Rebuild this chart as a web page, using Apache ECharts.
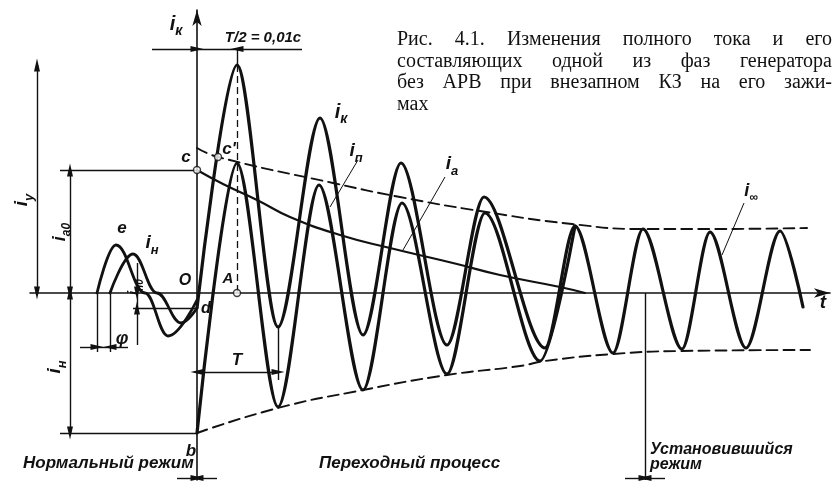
<!DOCTYPE html>
<html><head><meta charset="utf-8">
<script src="https://cdn.jsdelivr.net/npm/echarts@6.0.0/dist/echarts.min.js"></script>
<style>html,body{margin:0;padding:0;background:#fff}#c{width:833px;height:482px}</style>
</head><body><div id="c"></div>
<script>
// time t in ms (T/2 = 10 ms), current in relative units
const ikCurve = [[0,-1.5],[10,22.8],[20.25,-3.4],[30.75,17.5],[41.5,-4.2],[51,13.0],[62.5,-5.2],[71.75,9.6],[87,-5.5],[94.5,6.7],[104,-6.0],[111.5,6.4],[121.25,-5.6],[128.25,6.1],[137.25,-5.5],[145.75,6.2],[151.5,-1.4]];
const ipCurve = [[0,-14.0],[10,13.0],[20.25,-11.4],[30.5,10.8],[41.5,-9.7],[51.25,9.0],[62.5,-8.1],[72,8.0],[85.75,-6.8],[94.5,6.7]];
const iaCurve = [[0,12.3],[6.5,10.9],[15,9.3],[23.25,7.6],[35.75,5.8],[48.25,4.5],[65,2.9],[75.75,1.8],[90.75,0.6],[97,0]];
const envUpper = [[0,14.5],[5.25,13.6],[34,11.0],[50.75,9.6],[70.75,8.2],[93.75,6.9],[111.5,6.4],[128.25,6.4],[152.5,6.5]];
const envLower = [[0,-14.0],[20.25,-11.5],[41.5,-9.7],[62.5,-8.2],[80.75,-7.3],[87,-6.8],[104,-6.1],[120.75,-5.8],[153.25,-5.7]];
const eCurve = [[-25,0],[-20.25,4.8],[-13,0],[-7.25,-4.3],[0,-0.7]];
const inCurve = [[-21.75,0],[-16,3.9],[-10,0],[-4,-3.0],[0,-1.5]];
const halfPeriod = 10;      // T/2 = 0,01 c
const period = 20.25;       // T
const steadyStart = 112;    // start of steady state
const captionLines = [
  ['Рис.', '4.1.', 'Изменения', 'полного', 'тока', 'и', 'его'],
  ['составляющих', 'одной', 'из', 'фаз', 'генератора'],
  ['без', 'АРВ', 'при', 'внезапном', 'КЗ', 'на', 'его', 'зажи-'],
  ['мах']
];
const regimeLabels = ['Нормальный режим', 'Переходный процесс', 'Установившийся', 'режим'];

const K = '#111';
const iy = ikCurve[1][1], ia0 = iaCurve[0][1], inn = ipCurve[0][1], in0 = ikCurve[0][1];

const AR = 'triangle';
function seg(a, b, s1, s2, style) {
  const p1 = {coord: a, symbol: s1 || 'none', symbolSize: [6, 13]};
  const p2 = {coord: b, symbol: s2 || 'none', symbolSize: [6, 13]};
  if (style) p1.lineStyle = style;
  return [p1, p2];
}
const dimLines = [
  seg([-42.25, iy], [halfPeriod, iy]),
  seg([-40, 0], [-40, iy], AR, AR),
  seg([-34.25, ia0], [0, ia0]),
  seg([-31.75, 0], [-31.75, ia0], AR, AR),
  seg([-34.25, inn], [0, inn]),
  seg([-31.75, 0], [-31.75, inn], AR, AR),
  seg([-16, in0], [0, in0]),
  seg([-15, 3.0], [-15, 0], 'none', AR),
  seg([-15, -5.2], [-15, in0], 'none', AR),
  seg([-15, 0], [-15, in0]),
  seg([eCurve[0][0], 0], [eCurve[0][0], -5.9]),
  seg([inCurve[0][0], 0], [inCurve[0][0], -5.9]),
  seg([-29.25, -5.4], [eCurve[0][0], -5.4], 'none', AR),
  seg([-17.25, -5.4], [inCurve[0][0], -5.4], 'none', AR),
  seg([eCurve[0][0], -5.4], [inCurve[0][0], -5.4]),
  seg([0, -7.9], [period, -7.9], AR, AR),
  seg([period, ipCurve[2][1] + 8], [period, -8.7]),
  seg([-11.25, 24.4], [0, 24.4], 'none', AR),
  seg([26.25, 24.4], [halfPeriod, 24.4], 'none', AR),
  seg([0, 24.4], [halfPeriod, 24.4]),
  seg([halfPeriod, 24.4], [halfPeriod, iy]),
  seg([halfPeriod, iy], [halfPeriod, 0], 'none', 'none', {type: [7, 4], width: 1.3}),
  seg([steadyStart, 0], [steadyStart, -18.7]),
  seg([-43.75, -18.5], [158.25, -18.5]),
  seg([-5, -18.5], [0, -18.5], 'none', AR),
  seg([5, -18.5], [0, -18.5], 'none', AR),
  seg([steadyStart - 5, -18.5], [steadyStart, -18.5], 'none', AR),
  seg([steadyStart + 5, -18.5], [steadyStart, -18.5], 'none', AR),
  seg([40.25, 13.3], [33.25, 8.6], 'none', 'none', {width: 1}),
  seg([62, 11.6], [51.5, 4.3], 'none', 'none', {width: 1}),
  seg([136.75, 9.0], [131.25, 3.8], 'none', 'none', {width: 1})
];

function curve(name, data, w, dashed, sm, mono) {
  const s = {
    name, type: 'line', data, smooth: sm, symbol: 'none', silent: true, animation: false,
    clip: false,
    lineStyle: {color: K, width: w, type: dashed ? [11, 6] : 'solid', cap: 'round', join: 'round'}
  };
  if (mono) s.smoothMonotone = 'x';
  return s;
}

const LF = '"Liberation Sans", Arial, sans-serif';
function lab(x, y, main, sub, size, rot) {
  size = size || 19;
  const rich = {
    m: {fontSize: size, fontStyle: 'italic', fontWeight: 'bold', fontFamily: LF, fill: K, color: K, lineHeight: size + 8, verticalAlign: 'middle'},
    s: {fontSize: Math.round(size * 0.68), fontStyle: 'italic', fontWeight: 'bold', fontFamily: LF, fill: K, color: K, lineHeight: 10, verticalAlign: 'bottom'}
  };
  return {
    type: 'text', x, y, rotation: rot || 0, silent: true,
    style: {
      text: '{m|' + main + '}' + (sub ? '{s|' + sub + '}' : ''), rich,
      fill: K, align: 'center', verticalAlign: 'middle', textAlign: 'center', textVerticalAlign: 'middle'
    }
  };
}
function plain(x, y, text, font, align) {
  return {type: 'text', x, y, silent: true,
    style: {text, font, fill: K, align: align || 'left', verticalAlign: 'middle', textAlign: align || 'left', textVerticalAlign: 'middle'}};
}

const DF = 'italic bold ';
const graphics = [
  lab(176, 24, 'i', 'к', 20),
  plain(263, 38, 'T/2 = 0,01c', DF + '15px ' + LF, 'center'),
  lab(186, 157, 'c', '', 17),
  lab(229, 149, "c'", '', 17),
  lab(122, 228, 'e', '', 17),
  lab(152, 243, 'i', 'н', 19),
  lab(185, 281, 'O', '', 16),
  lab(206, 309, 'd', '', 16),
  lab(228, 279, 'A', '', 15),
  lab(122, 339, 'φ', '', 18),
  lab(237, 360, 'T', '', 17),
  lab(191, 451, 'b', '', 17),
  lab(341, 112, 'i', 'к', 20),
  lab(356, 151, 'i', 'п', 19),
  lab(452, 164, 'i', 'a', 19),
  lab(751, 191, 'i', '∞', 18),
  lab(823, 303, 't', '', 19),
  lab(22, 200, 'i', 'y', 19, Math.PI / 2),
  lab(60, 232, 'i', 'a0', 18, Math.PI / 2),
  lab(55, 367, 'i', 'н', 19, Math.PI / 2),
  lab(134, 287, 'i', 'н0', 15, Math.PI / 2),
  plain(23, 463, regimeLabels[0], DF + '17px ' + LF),
  plain(319, 463, regimeLabels[1], DF + '17px ' + LF),
  plain(650, 450, regimeLabels[2], DF + '16px ' + LF),
  plain(650, 465, regimeLabels[3], DF + '16px ' + LF)
];

// justified caption
const capFont = '20px "Liberation Serif", "DejaVu Serif", serif';
const ctx = document.createElement('canvas').getContext('2d');
ctx.font = capFont;
const capLeft = 397, capRight = 832, capTop = 40, capLH = 21.5;
captionLines.forEach((words, li) => {
  const ws = words.map(w => ctx.measureText(w).width);
  const total = ws.reduce((a, b) => a + b, 0);
  const justify = li < captionLines.length - 1 && words.length > 1;
  const gap = justify ? (capRight - capLeft - total) / (words.length - 1) : 6;
  let x = capLeft;
  words.forEach((w, i) => {
    graphics.push(plain(x, capTop + li * capLH, w, capFont));
    x += ws[i] + gap;
  });
});

const chart = echarts.init(document.getElementById('c'), null, {renderer: 'canvas'});
chart.setOption({
  animation: false,
  backgroundColor: '#fff',
  grid: {left: 30, right: 3, top: 10, bottom: 2, containLabel: false, outerBoundsMode: 'none'},
  xAxis: {
    type: 'value', min: -41.75, max: 158.25,
    axisLine: {show: true, onZero: true, symbol: ['none', 'arrow'], symbolSize: [7, 16], lineStyle: {color: K, width: 1.6}},
    axisTick: {show: false}, axisLabel: {show: false}, splitLine: {show: false}
  },
  yAxis: {
    type: 'value', min: -18.7, max: 28.3,
    axisLine: {show: true, onZero: true, symbol: ['none', 'arrow'], symbolSize: [7, 16], lineStyle: {color: K, width: 1.6}},
    axisTick: {show: false}, axisLabel: {show: false}, splitLine: {show: false}
  },
  series: [
    curve('iк', ikCurve, 3.2, false, 0.3, true),
    curve('iп', ipCurve, 3.2, false, 0.3, true),
    curve('ia', iaCurve, 2.2, false, 0.5, false),
    curve('env+', envUpper, 1.9, true, 0.5, false),
    curve('env-', envLower, 1.9, true, 0.5, false),
    curve('e', eCurve, 2.8, false, 0.4, true),
    curve('iн', inCurve, 2.8, false, 0.4, true),
    {
      type: 'scatter', silent: true, animation: false, clip: false,
      data: [iaCurve[0], envUpper[1], [halfPeriod, 0]],
      symbol: 'circle', symbolSize: 7,
      itemStyle: {color: '#fff', borderColor: K, borderWidth: 1.4}, z: 5
    },
    {
      type: 'line', data: [], silent: true, animation: false, clip: false,
      markLine: {
        silent: true, animation: false, symbol: ['none', 'none'], symbolSize: 12,
        label: {show: false}, emphasis: {disabled: true},
        lineStyle: {color: K, width: 1.4, type: 'solid'},
        itemStyle: {color: K},
        data: dimLines
      }
    }
  ],
  graphic: graphics
});
</script>
</body></html>
